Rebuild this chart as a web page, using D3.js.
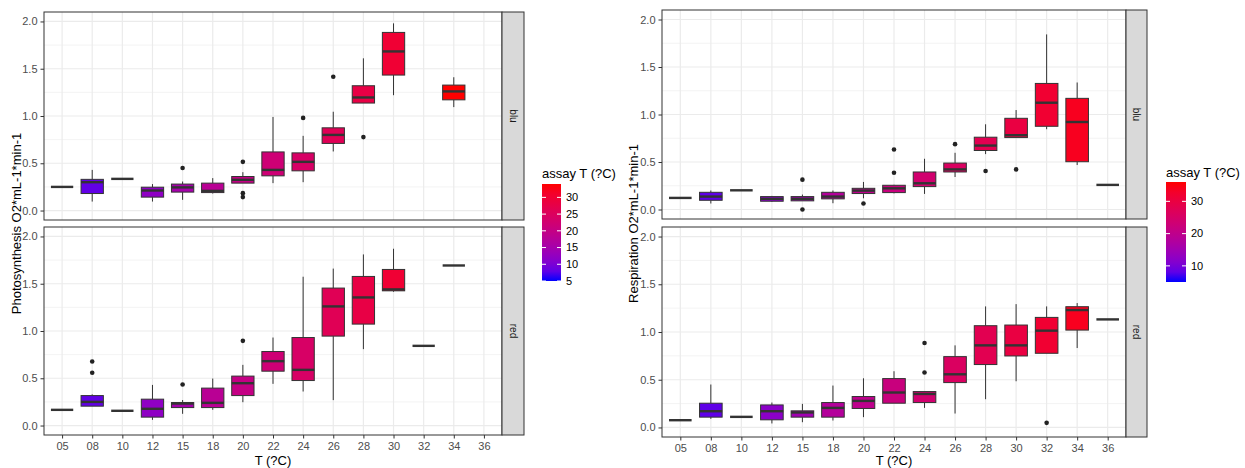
<!DOCTYPE html>
<html>
<head>
<meta charset="utf-8">
<script src="https://cdn.jsdelivr.net/npm/d3@7"></script>
<style>
body { margin: 0; background: #fff; }
text { font-family: "Liberation Sans", Arial, sans-serif; }
</style>
</head>
<body>
<div id="chart"></div>
<script>
var tempCats = ["05","08","10","12","15","18","20","22","24","26","28","30","32","34","36"]
var assayT = [5, 8, 10, 12, 15, 18, 20, 22, 24, 26, 28, 30, 32, 34, 36]
var yTicks = [0, 0.5, 1, 1.5, 2]

// box stats per temperature: [low whisker, q1, median, q3, high whisker]
// a one-element array is a single measurement, null = no data
var photoBlu = [
  [0.25], [0.095,0.18,0.30,0.33,0.43], [0.335], [0.095,0.142,0.212,0.247,0.28],
  [0.113,0.195,0.245,0.28,0.307], [0.18,0.19,0.208,0.29,0.343], [0.29,0.29,0.325,0.36,0.406],
  [0.29,0.367,0.43,0.62,0.99], [0.30,0.42,0.515,0.61,0.79], [0.625,0.71,0.80,0.875,1.045],
  [1.137,1.137,1.196,1.32,1.61], [1.22,1.433,1.683,1.884,1.98], null,
  [1.094,1.171,1.26,1.327,1.41], null
]
var photoBluOut = [["15",0.45],["20",0.515],["20",0.184],["20",0.142],["24",0.98],["26",1.415],["28",0.777]]

var photoRed = [
  [0.166], [0.205,0.205,0.25,0.317,0.33], [0.156], [0.06,0.089,0.177,0.279,0.43],
  [0.124,0.19,0.233,0.243,0.27], [0.166,0.19,0.24,0.396,0.497], [0.247,0.317,0.448,0.523,0.642],
  [0.441,0.575,0.681,0.783,0.931], [0.36,0.476,0.589,0.931,1.574], [0.269,0.946,1.26,1.454,1.66],
  [0.808,1.073,1.355,1.577,1.81], [1.415,1.425,1.44,1.651,1.87], [0.843], [1.693], null
]
var photoRedOut = [["08",0.677],["08",0.558],["15",0.434],["20",0.896]]

var respBlu = [
  [0.122], [0.063,0.097,0.136,0.181,0.20], [0.202], [0.08,0.087,0.112,0.136,0.143],
  [0.091,0.091,0.112,0.136,0.157], [0.066,0.112,0.136,0.181,0.20], [0.118,0.168,0.199,0.223,0.29],
  [0.17,0.178,0.223,0.255,0.26], [0.164,0.241,0.276,0.395,0.534], [0.342,0.395,0.422,0.489,0.597],
  [0.583,0.621,0.673,0.761,0.897], [0.757,0.757,0.782,0.96,1.047], [0.845,0.876,1.124,1.327,1.843],
  [0.468,0.503,0.921,1.17,1.337], [0.259]
]
var respBluOut = [["15",0.314],["15",0.0],["20",0.063],["22",0.387],["22",0.631],["26",0.688],["28",0.405],["30",0.422]]

var respRed = [
  [0.076], [0.09,0.108,0.17,0.254,0.45], [0.111], [0.042,0.08,0.17,0.236,0.261],
  [0.055,0.108,0.157,0.174,0.247], [0.073,0.108,0.205,0.261,0.439], [0.108,0.199,0.278,0.324,0.515],
  [0.254,0.254,0.366,0.512,0.589], [0.205,0.261,0.351,0.376,0.376], [0.146,0.47,0.557,0.742,0.86],
  [0.296,0.659,0.86,1.066,1.268], [0.484,0.749,0.86,1.073,1.292], [0.777,0.777,1.014,1.153,1.268],
  [0.832,1.02,1.23,1.265,1.303], [1.132]
]
var respRedOut = [["24",0.885],["24",0.575],["32",0.048]]

var svg = d3.select("#chart").append("svg")
    .attr("width", 1245)
    .attr("height", 468)

function drawChart(c) {
    var g = svg.append("g")
    var x = d3.scalePoint().domain(tempCats).range([c.x0, c.x1]).padding(0.6)
    var bw = x.step() * 0.74
    var color = d3.scaleLinear().domain(c.fillDomain).range(["blue", "red"]).interpolate(d3.interpolateLab)

    c.facets.forEach(function(f, fi) {
        var y = d3.scaleLinear().domain([-0.1, 2.1]).range([f.y1, f.y0])
        var p = g.append("g")
        p.append("rect").attr("x", c.x0).attr("y", f.y0)
            .attr("width", c.x1 - c.x0).attr("height", f.y1 - f.y0).attr("fill", "#fff")

        // grid
        p.selectAll(".minor").data([0.25, 0.75, 1.25, 1.75]).join("line")
            .attr("x1", c.x0).attr("x2", c.x1)
            .attr("y1", d => y(d)).attr("y2", d => y(d))
            .attr("stroke", "#EEEEEE").attr("stroke-width", 0.7)
        p.selectAll(".major").data(yTicks).join("line")
            .attr("x1", c.x0).attr("x2", c.x1)
            .attr("y1", d => y(d)).attr("y2", d => y(d))
            .attr("stroke", "#EBEBEB").attr("stroke-width", 1.2)
        p.selectAll(".vgrid").data(tempCats).join("line")
            .attr("x1", d => x(d)).attr("x2", d => x(d))
            .attr("y1", f.y0).attr("y2", f.y1)
            .attr("stroke", "#EBEBEB").attr("stroke-width", 1.2)

        // boxes
        f.stats.forEach(function(s, i) {
            if (!s) return
            var cx = x(tempCats[i])
            if (s.length == 1) {
                p.append("line").attr("x1", cx - bw/2).attr("x2", cx + bw/2)
                    .attr("y1", y(s[0])).attr("y2", y(s[0]))
                    .attr("stroke", "#333").attr("stroke-width", 2.4)
                return
            }
            p.append("line").attr("x1", cx).attr("x2", cx).attr("y1", y(s[0])).attr("y2", y(s[1]))
                .attr("stroke", "#333").attr("stroke-width", 1)
            p.append("line").attr("x1", cx).attr("x2", cx).attr("y1", y(s[3])).attr("y2", y(s[4]))
                .attr("stroke", "#333").attr("stroke-width", 1)
            p.append("rect").attr("x", cx - bw/2).attr("width", bw)
                .attr("y", y(s[3])).attr("height", y(s[1]) - y(s[3]))
                .attr("fill", color(assayT[i])).attr("stroke", "#333").attr("stroke-width", 1)
            p.append("line").attr("x1", cx - bw/2).attr("x2", cx + bw/2)
                .attr("y1", y(s[2])).attr("y2", y(s[2]))
                .attr("stroke", "#333").attr("stroke-width", 2.4)
        })
        p.selectAll(".out").data(f.outs).join("circle")
            .attr("cx", d => x(d[0])).attr("cy", d => y(d[1])).attr("r", 2.3)
            .attr("fill", "#222")

        p.append("rect").attr("x", c.x0).attr("y", f.y0)
            .attr("width", c.x1 - c.x0).attr("height", f.y1 - f.y0)
            .attr("fill", "none").attr("stroke", "#333").attr("stroke-width", 1)

        // strip
        p.append("rect").attr("x", c.x1).attr("y", f.y0)
            .attr("width", c.stripW).attr("height", f.y1 - f.y0)
            .attr("fill", "#D9D9D9").attr("stroke", "#333").attr("stroke-width", 1)
        p.append("text")
            .attr("transform", "translate(" + (c.x1 + c.stripW / 2) + "," + ((f.y0 + f.y1) / 2) + ") rotate(90)")
            .attr("text-anchor", "middle").attr("dy", "0.35em")
            .attr("font-size", 10).attr("fill", "#1A1A1A")
            .text(f.name)

        // y axis
        var ya = p.append("g").attr("transform", "translate(" + c.x0 + ",0)")
            .call(d3.axisLeft(y).tickValues(yTicks).tickFormat(d3.format(".1f")).tickSize(3.5).tickPadding(3))
        ya.select(".domain").remove()
        ya.selectAll("line").attr("stroke", "#333")
        ya.selectAll("text").attr("fill", "#4D4D4D").attr("font-size", 11)
            .style("font-family", "Liberation Sans, Arial, sans-serif")

        if (fi == 1) {
            var xa = p.append("g").attr("transform", "translate(0," + f.y1 + ")")
                .call(d3.axisBottom(x).tickSize(3.5).tickPadding(4))
            xa.select(".domain").remove()
            xa.selectAll("line").attr("stroke", "#333")
            xa.selectAll("text").attr("fill", "#4D4D4D").attr("font-size", 11)
                .style("font-family", "Liberation Sans, Arial, sans-serif")
        }
    })

    // axis titles
    g.append("text").attr("x", (c.x0 + c.x1) / 2).attr("y", c.xTitleY)
        .attr("text-anchor", "middle").attr("font-size", 13).attr("fill", "#000")
        .text("T (?C)")
    var midY = (c.facets[0].y0 + c.facets[1].y1) / 2
    g.append("text")
        .attr("transform", "translate(" + c.yTitleX + "," + midY + ") rotate(-90)")
        .attr("text-anchor", "middle").attr("dy", "0.35em")
        .attr("font-size", 13).attr("fill", "#000")
        .text(c.yTitle)

    // colour bar legend
    var L = c.legend
    var ly = d3.scaleLinear().domain(c.fillDomain).range([L.y1, L.y0])
    var gradId = "grad" + c.id
    var grad = svg.append("defs").append("linearGradient").attr("id", gradId)
        .attr("x1", 0).attr("x2", 0).attr("y1", 1).attr("y2", 0)
    d3.range(0, 1.0001, 0.1).forEach(function(t) {
        grad.append("stop").attr("offset", t)
            .attr("stop-color", color(c.fillDomain[0] + t * (c.fillDomain[1] - c.fillDomain[0])))
    })
    g.append("text").attr("x", L.x).attr("y", L.titleY)
        .attr("font-size", 13).attr("fill", "#000").text("assay T (?C)")
    g.append("rect").attr("x", L.x).attr("y", L.y0).attr("width", L.w).attr("height", L.y1 - L.y0)
        .attr("fill", "url(#" + gradId + ")")
    L.ticks.forEach(function(t) {
        g.append("line").attr("x1", L.x).attr("x2", L.x + 4).attr("y1", ly(t)).attr("y2", ly(t))
            .attr("stroke", "#fff").attr("stroke-width", 1)
        g.append("line").attr("x1", L.x + L.w - 4).attr("x2", L.x + L.w).attr("y1", ly(t)).attr("y2", ly(t))
            .attr("stroke", "#fff").attr("stroke-width", 1)
        g.append("text").attr("x", L.x + L.w + 5).attr("y", ly(t)).attr("dy", "0.35em")
            .attr("font-size", 11).attr("fill", "#000").text(t)
    })
}

drawChart({
    id: 1, x0: 44, x1: 502, stripW: 22,
    facets: [
        {name: "blu", y0: 12, y1: 220, stats: photoBlu, outs: photoBluOut},
        {name: "red", y0: 227, y1: 435, stats: photoRed, outs: photoRedOut}
    ],
    fillDomain: [5, 34],
    yTitle: "Photosynthesis O2*mL-1*min-1", yTitleX: 16, xTitleY: 465,
    legend: {x: 542, w: 19, y0: 184, y1: 281, titleY: 178, ticks: [5, 10, 15, 20, 25, 30]}
})

drawChart({
    id: 2, x0: 662, x1: 1126, stripW: 21,
    facets: [
        {name: "blu", y0: 10, y1: 219, stats: respBlu, outs: respBluOut},
        {name: "red", y0: 227, y1: 437, stats: respRed, outs: respRedOut}
    ],
    fillDomain: [5, 36],
    yTitle: "Respiration O2*mL-1*min-1", yTitleX: 633, xTitleY: 465,
    legend: {x: 1166, w: 20, y0: 182, y1: 282, titleY: 177, ticks: [10, 20, 30]}
})
</script>
</body>
</html>
